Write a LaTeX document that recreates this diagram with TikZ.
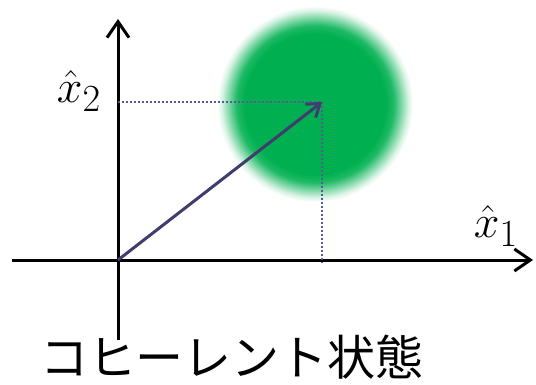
\documentclass[tikz,border=0pt]{standalone}
\usepackage{fontspec}
\newfontfamily\cjk{Noto Sans CJK JP}
\usetikzlibrary{arrows.meta}
\definecolor{blobgreen}{HTML}{00B050}
\definecolor{vec}{HTML}{3F3C6E}
\definecolor{dotc}{HTML}{5A5A96}
\pgfdeclareradialshading{blob}{\pgfpoint{0bp}{0bp}}{color(0bp)=(blobgreen); color(18bp)=(blobgreen); color(20bp)=(blobgreen!88!white); color(22bp)=(blobgreen!50!white); color(23.8bp)=(blobgreen!15!white); color(25bp)=(white); color(50bp)=(white)}
\tikzset{
  axis/.style={line width=3pt, -{Straight Barb[length=16pt,width=22pt,line width=3pt]}},
  vector/.style={vec, line width=3pt, -{Straight Barb[length=12pt,width=17pt,line width=3pt]}},
  proj/.style={dotc, line width=2pt, dash pattern=on 2pt off 2pt},
  lbl/.style={font=\Huge, scale=1.85, inner sep=0pt}
}
\begin{document}
\begin{tikzpicture}[x=1pt,y=-1pt]
\useasboundingbox (0,0) rectangle (536,385);
\shade[shading=blob] (315,104) circle (98);
\coordinate (O) at (118,260);
\coordinate (P) at (322,102);
\coordinate (xl) at (12,260);
\coordinate (xr) at (533,260);
\coordinate (yb) at (118,340);
\coordinate (yt) at (118,19);
\coordinate (Px) at (322,263);
\coordinate (Py) at (118,102);
\draw[axis] (xl) -- (xr);
\draw[axis] (yb) -- (yt);
\draw[proj] (Py) -- (P);
\draw[proj] (P) -- (Px);
\draw[vector] (O) -- (P);
\node[lbl] (l2) at (79,91) {$\hat{x}_2$};
\node[lbl] (l1) at (496,226) {$\hat{x}_1$};
\node[inner sep=0pt, font=\cjk\fontsize{48}{48}\selectfont] (title) at (232,357) {コヒーレント状態};
\end{tikzpicture}
\end{document}
